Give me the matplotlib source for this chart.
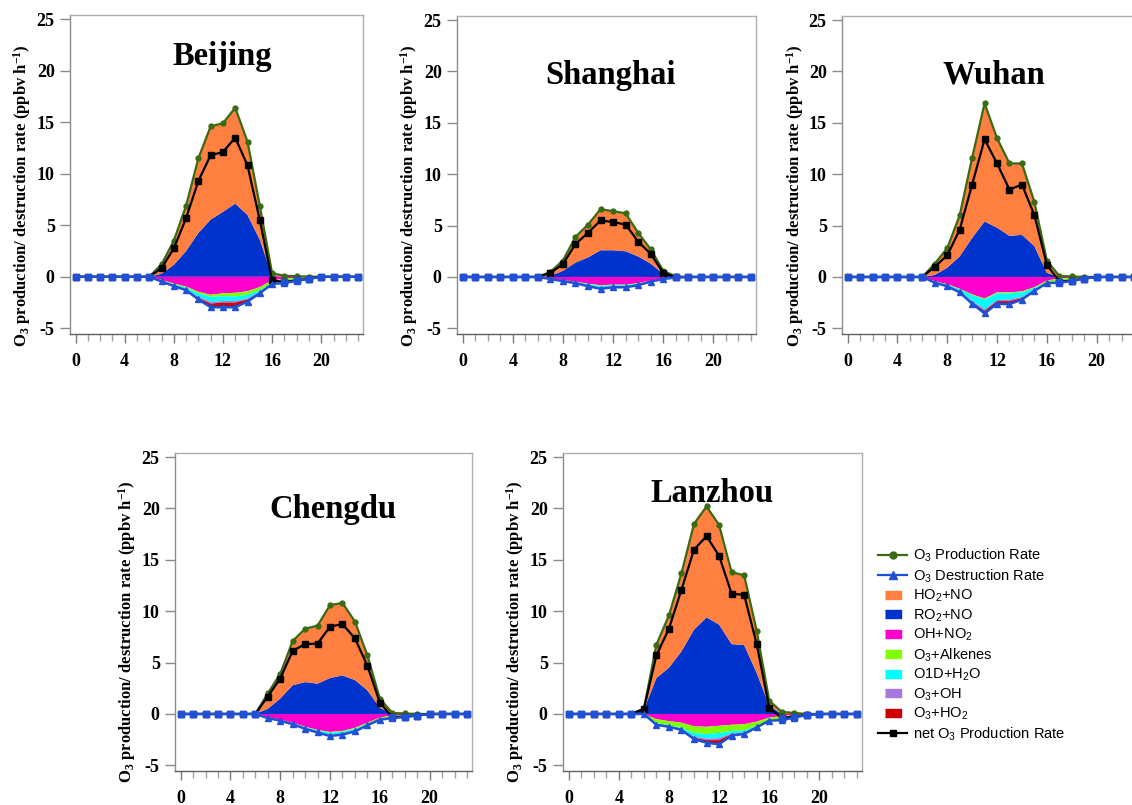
import numpy as np
import matplotlib
matplotlib.use('Agg')
import matplotlib.pyplot as plt
from matplotlib.lines import Line2D

HOURS = list(range(24))
CITIES = ['Beijing', 'Shanghai', 'Wuhan', 'Chengdu', 'Lanzhou']

# ---------------- Beijing ----------------
BJ_PROD = [0, 0, 0, 0, 0, 0, 0, 1.2, 3.5, 6.9, 11.5, 14.6, 14.9, 16.4, 13.1, 6.9, 0.35, 0.1, 0.05, 0.02, 0, 0, 0, 0]
BJ_DEST = [0, 0, 0, 0, 0, 0, 0, -0.45, -0.9, -1.3, -2.2, -2.95, -2.95, -2.95, -2.4, -1.6, -0.7, -0.6, -0.4, -0.2, 0, 0, 0, 0]
BJ_NET = [0, 0, 0, 0, 0, 0, 0, 0.85, 2.75, 5.7, 9.3, 11.8, 12.1, 13.5, 10.8, 5.5, -0.35, -0.5, -0.35, -0.18, 0, 0, 0, 0]
BJ_RO2 = [0, 0, 0, 0, 0, 0, 0, 0.3, 1.15, 2.5, 4.25, 5.55, 6.3, 7.1, 6.0, 3.6, 0.1, 0, 0, 0, 0, 0, 0, 0]
BJ_HO2 = [0, 0, 0, 0, 0, 0, 0, 0.9, 2.35, 4.4, 7.25, 9.05, 8.6, 9.3, 7.1, 3.3, 0.25, 0.1, 0.05, 0.02, 0, 0, 0, 0]
BJ_OHNO2 = [0, 0, 0, 0, 0, 0, 0, -0.3, -0.65, -0.95, -1.45, -1.75, -1.6, -1.55, -1.4, -1.0, -0.35, -0.2, -0.1, -0.05, 0, 0, 0, 0]
BJ_ALK = [0, 0, 0, 0, 0, 0, 0, -0.05, -0.08, -0.1, -0.15, -0.2, -0.3, -0.35, -0.35, -0.3, -0.25, -0.3, -0.25, -0.12, 0, 0, 0, 0]
BJ_O1D = [0, 0, 0, 0, 0, 0, 0, -0.05, -0.1, -0.15, -0.35, -0.5, -0.45, -0.45, -0.35, -0.15, -0.05, -0.03, -0.02, -0.01, 0, 0, 0, 0]
BJ_O3OH = [0, 0, 0, 0, 0, 0, 0, -0.02, -0.03, -0.04, -0.1, -0.15, -0.15, -0.15, -0.1, -0.05, -0.02, -0.02, -0.01, -0.01, 0, 0, 0, 0]
BJ_O3HO2 = [0, 0, 0, 0, 0, 0, 0, -0.03, -0.04, -0.06, -0.15, -0.35, -0.45, -0.45, -0.2, -0.1, -0.03, -0.05, -0.02, -0.01, 0, 0, 0, 0]

# ---------------- Shanghai ----------------
SH_PROD = [0, 0, 0, 0, 0, 0, 0, 0.5, 1.6, 3.9, 5.1, 6.6, 6.4, 6.2, 4.3, 2.7, 0.6, 0.05, 0, 0, 0, 0, 0, 0]
SH_DEST = [0, 0, 0, 0, 0, 0, 0, -0.2, -0.4, -0.6, -0.9, -1.15, -1.0, -1.0, -0.8, -0.45, -0.2, -0.05, 0, 0, 0, 0, 0, 0]
SH_NET = [0, 0, 0, 0, 0, 0, 0, 0.4, 1.25, 3.2, 4.3, 5.5, 5.35, 5.1, 3.45, 2.25, 0.4, -0.02, 0, 0, 0, 0, 0, 0]
SH_RO2 = [0, 0, 0, 0, 0, 0, 0, 0.1, 0.6, 1.4, 1.9, 2.6, 2.6, 2.5, 2.0, 1.3, 0.3, 0, 0, 0, 0, 0, 0, 0]
SH_HO2 = [0, 0, 0, 0, 0, 0, 0, 0.4, 1.0, 2.5, 3.2, 4.0, 3.8, 3.7, 2.3, 1.4, 0.3, 0.05, 0, 0, 0, 0, 0, 0]
SH_OHNO2 = [0, 0, 0, 0, 0, 0, 0, -0.15, -0.3, -0.45, -0.65, -0.8, -0.75, -0.75, -0.6, -0.35, -0.15, -0.03, 0, 0, 0, 0, 0, 0]
SH_ALK = [0, 0, 0, 0, 0, 0, 0, -0.02, -0.03, -0.04, -0.05, -0.07, -0.05, -0.05, -0.05, -0.04, -0.02, -0.01, 0, 0, 0, 0, 0, 0]
SH_O1D = [0, 0, 0, 0, 0, 0, 0, -0.02, -0.04, -0.07, -0.12, -0.18, -0.12, -0.12, -0.1, -0.04, -0.02, -0.01, 0, 0, 0, 0, 0, 0]
SH_O3OH = [0, 0, 0, 0, 0, 0, 0, -0.005, -0.01, -0.02, -0.03, -0.04, -0.03, -0.03, -0.02, -0.01, -0.005, 0, 0, 0, 0, 0, 0, 0]
SH_O3HO2 = [0, 0, 0, 0, 0, 0, 0, -0.005, -0.02, -0.02, -0.05, -0.06, -0.05, -0.05, -0.03, -0.01, -0.005, 0, 0, 0, 0, 0, 0, 0]

# ---------------- Wuhan ----------------
WH_PROD = [0, 0, 0, 0, 0, 0, 0, 1.3, 2.8, 6.0, 11.6, 16.9, 13.5, 11.05, 11.05, 7.3, 1.6, 0.1, 0.05, 0, 0, 0, 0, 0]
WH_DEST = [0, 0, 0, 0, 0, 0, 0, -0.55, -0.9, -1.5, -2.6, -3.55, -2.6, -2.65, -2.2, -1.35, -0.6, -0.55, -0.4, -0.15, 0, 0, 0, 0]
WH_NET = [0, 0, 0, 0, 0, 0, 0, 1.0, 2.1, 4.6, 9.0, 13.4, 11.05, 8.5, 9.0, 6.0, 1.2, -0.45, -0.35, -0.15, 0, 0, 0, 0]
WH_RO2 = [0, 0, 0, 0, 0, 0, 0, 0.2, 0.9, 2.0, 3.8, 5.4, 4.8, 4.0, 4.1, 3.0, 0.4, 0, 0, 0, 0, 0, 0, 0]
WH_HO2 = [0, 0, 0, 0, 0, 0, 0, 1.1, 1.9, 4.0, 7.8, 11.5, 8.7, 7.05, 6.95, 4.3, 1.2, 0.1, 0.05, 0, 0, 0, 0, 0]
WH_OHNO2 = [0, 0, 0, 0, 0, 0, 0, -0.4, -0.7, -1.15, -1.7, -2.1, -1.5, -1.5, -1.4, -1.0, -0.35, -0.15, -0.1, -0.05, 0, 0, 0, 0]
WH_ALK = [0, 0, 0, 0, 0, 0, 0, -0.05, -0.05, -0.05, -0.08, -0.1, -0.1, -0.1, -0.1, -0.08, -0.15, -0.3, -0.2, -0.07, 0, 0, 0, 0]
WH_O1D = [0, 0, 0, 0, 0, 0, 0, -0.05, -0.1, -0.2, -0.55, -0.95, -0.65, -0.6, -0.45, -0.2, -0.05, -0.03, -0.03, -0.01, 0, 0, 0, 0]
WH_O3OH = [0, 0, 0, 0, 0, 0, 0, -0.02, -0.02, -0.04, -0.1, -0.15, -0.1, -0.15, -0.1, -0.03, -0.02, -0.02, -0.02, -0.01, 0, 0, 0, 0]
WH_O3HO2 = [0, 0, 0, 0, 0, 0, 0, -0.03, -0.03, -0.06, -0.17, -0.25, -0.25, -0.3, -0.15, -0.04, -0.03, -0.05, -0.05, -0.01, 0, 0, 0, 0]

# ---------------- Chengdu ----------------
CD_PROD = [0, 0, 0, 0, 0, 0, 0, 2.0, 3.9, 7.1, 8.3, 8.6, 10.6, 10.8, 9.0, 5.7, 1.5, 0.1, 0.05, 0, 0, 0, 0, 0]
CD_DEST = [0, 0, 0, 0, 0, 0, 0, -0.4, -0.65, -1.0, -1.45, -1.8, -2.15, -2.0, -1.7, -1.1, -0.55, -0.4, -0.3, -0.15, 0, 0, 0, 0]
CD_NET = [0, 0, 0, 0, 0, 0, 0, 1.7, 3.45, 6.15, 6.8, 6.85, 8.5, 8.75, 7.35, 4.7, 1.1, -0.3, -0.25, -0.15, 0, 0, 0, 0]
CD_RO2 = [0, 0, 0, 0, 0, 0, 0, 0.5, 1.5, 2.8, 3.1, 2.95, 3.5, 3.75, 3.3, 2.3, 0.6, 0, 0, 0, 0, 0, 0, 0]
CD_HO2 = [0, 0, 0, 0, 0, 0, 0, 1.5, 2.4, 4.3, 5.2, 5.65, 7.1, 7.05, 5.7, 3.4, 0.9, 0.1, 0.05, 0, 0, 0, 0, 0]
CD_OHNO2 = [0, 0, 0, 0, 0, 0, 0, -0.3, -0.55, -0.85, -1.25, -1.55, -1.75, -1.65, -1.35, -0.85, -0.35, -0.15, -0.1, -0.05, 0, 0, 0, 0]
CD_ALK = [0, 0, 0, 0, 0, 0, 0, -0.03, -0.03, -0.04, -0.05, -0.06, -0.08, -0.08, -0.1, -0.12, -0.12, -0.15, -0.12, -0.06, 0, 0, 0, 0]
CD_O1D = [0, 0, 0, 0, 0, 0, 0, -0.04, -0.05, -0.08, -0.1, -0.13, -0.2, -0.17, -0.17, -0.1, -0.05, -0.06, -0.05, -0.03, 0, 0, 0, 0]
CD_O3OH = [0, 0, 0, 0, 0, 0, 0, -0.01, -0.01, -0.01, -0.02, -0.02, -0.05, -0.04, -0.03, -0.01, -0.01, -0.01, -0.01, 0, 0, 0, 0, 0]
CD_O3HO2 = [0, 0, 0, 0, 0, 0, 0, -0.02, -0.01, -0.02, -0.03, -0.04, -0.07, -0.06, -0.05, -0.02, -0.02, -0.03, -0.02, -0.01, 0, 0, 0, 0]

# ---------------- Lanzhou ----------------
LZ_PROD = [0, 0, 0, 0, 0, 0, 0.5, 6.75, 9.6, 13.7, 18.5, 20.2, 18.4, 13.8, 13.5, 8.1, 1.3, 0.2, 0.1, 0, 0, 0, 0, 0]
LZ_DEST = [0, 0, 0, 0, 0, 0, 0, -1.05, -1.25, -1.55, -2.45, -2.8, -2.95, -2.1, -1.95, -1.3, -0.65, -0.6, -0.35, -0.1, 0, 0, 0, 0]
LZ_NET = [0, 0, 0, 0, 0, 0, 0.5, 5.7, 8.3, 12.1, 16.0, 17.3, 15.4, 11.7, 11.6, 6.8, 0.6, -0.4, -0.25, -0.1, 0, 0, 0, 0]
LZ_RO2 = [0, 0, 0, 0, 0, 0, 0.4, 3.5, 4.5, 6.1, 8.2, 9.4, 8.7, 6.8, 6.7, 4.0, 0.8, 0, 0, 0, 0, 0, 0, 0]
LZ_HO2 = [0, 0, 0, 0, 0, 0, 0.1, 3.25, 5.1, 7.6, 10.3, 10.8, 9.7, 7.0, 6.8, 4.1, 0.5, 0.2, 0.1, 0, 0, 0, 0, 0]
LZ_OHNO2 = [0, 0, 0, 0, 0, 0, 0, -0.5, -0.7, -0.85, -1.2, -1.25, -1.15, -1.05, -1.0, -0.75, -0.35, -0.2, -0.1, -0.03, 0, 0, 0, 0]
LZ_ALK = [0, 0, 0, 0, 0, 0, 0, -0.4, -0.4, -0.5, -0.65, -0.7, -0.7, -0.6, -0.6, -0.4, -0.25, -0.35, -0.22, -0.07, 0, 0, 0, 0]
LZ_O1D = [0, 0, 0, 0, 0, 0, 0, -0.05, -0.07, -0.1, -0.35, -0.45, -0.5, -0.25, -0.2, -0.08, -0.02, -0.02, -0.01, 0, 0, 0, 0, 0]
LZ_O3OH = [0, 0, 0, 0, 0, 0, 0, -0.03, -0.03, -0.04, -0.1, -0.15, -0.2, -0.07, -0.05, -0.03, -0.01, -0.01, -0.01, 0, 0, 0, 0, 0]
LZ_O3HO2 = [0, 0, 0, 0, 0, 0, 0, -0.07, -0.05, -0.06, -0.15, -0.25, -0.4, -0.13, -0.1, -0.04, -0.02, -0.02, -0.01, 0, 0, 0, 0, 0]

LEGEND_LABELS = ['O$_3$ Production Rate', 'O$_3$ Destruction Rate', 'HO$_2$+NO', 'RO$_2$+NO',
                 'OH+NO$_2$', 'O$_3$+Alkenes', 'O1D+H$_2$O', 'O$_3$+OH', 'O$_3$+HO$_2$',
                 'net O$_3$ Production Rate']
YLABEL = 'O$_3$ production/ destruction rate (ppbv h$^{-1}$)'

# ---------------- style ----------------
C_ORANGE = '#FF8040'
C_BLUE = '#0033CC'
C_MAG = '#FF00CC'
C_GRN = '#80FF00'
C_CYAN = '#00FFFF'
C_PURP = '#A878E0'
C_RED = '#CC0000'
C_PLINE = '#3A6A12'
C_DLINE = '#1F50D6'
C_SPINE = '#8C8C8C'

plt.rcParams['mathtext.default'] = 'regular'
SERIF = ['Liberation Serif', 'DejaVu Serif']
SANS = ['Liberation Sans Narrow', 'Liberation Sans', 'DejaVu Sans']

W, H = 1132, 805
fig = plt.figure(figsize=(W / 100, H / 100), dpi=100)


def px_axes(l, t, r, b):
    return fig.add_axes([l / W, 1 - b / H, (r - l) / W, (b - t) / H])


DATA = {
    'Beijing': (BJ_PROD, BJ_DEST, BJ_NET, BJ_RO2, BJ_HO2, BJ_OHNO2, BJ_ALK, BJ_O1D, BJ_O3OH, BJ_O3HO2),
    'Shanghai': (SH_PROD, SH_DEST, SH_NET, SH_RO2, SH_HO2, SH_OHNO2, SH_ALK, SH_O1D, SH_O3OH, SH_O3HO2),
    'Wuhan': (WH_PROD, WH_DEST, WH_NET, WH_RO2, WH_HO2, WH_OHNO2, WH_ALK, WH_O1D, WH_O3OH, WH_O3HO2),
    'Chengdu': (CD_PROD, CD_DEST, CD_NET, CD_RO2, CD_HO2, CD_OHNO2, CD_ALK, CD_O1D, CD_O3OH, CD_O3HO2),
    'Lanzhou': (LZ_PROD, LZ_DEST, LZ_NET, LZ_RO2, LZ_HO2, LZ_OHNO2, LZ_ALK, LZ_O1D, LZ_O3OH, LZ_O3HO2),
}

# axes box (px: left, top, right, bottom), title (cx, baseline), ylabel (cx, cy)
LAYOUT = {
    'Beijing': ((70, 15, 363, 334), (222, 65), (22, 196)),
    'Shanghai': ((457, 16, 756, 334), (610, 84), (409, 196)),
    'Wuhan': ((842, 16, 1139, 334), (994, 84), (795, 196)),
    'Chengdu': ((175, 453, 472, 771), (333, 518), (127, 632)),
    'Lanzhou': ((563, 453, 862, 771), (712, 502), (515, 632)),
}

hours = np.array(HOURS)
for city in CITIES:
    prod, dest, net, ro2, ho2, ohno2, alk, o1d, o3oh, o3ho2 = [np.array(v, dtype=float) for v in DATA[city]]
    box, tpos, ypos = LAYOUT[city]
    ax = px_axes(*box)
    ax.stackplot(hours, ro2, ho2, colors=[C_BLUE, C_ORANGE], linewidth=0, zorder=1)
    ax.stackplot(hours, ohno2, alk, o1d, o3oh, o3ho2,
                 colors=[C_MAG, C_GRN, C_CYAN, C_PURP, C_RED], linewidth=0, zorder=1)
    ax.plot(hours, prod, color=C_PLINE, lw=1.6, marker='o', ms=3.5, zorder=3)
    ax.plot(hours, net, color='black', lw=1.6, marker='s', ms=4.5, zorder=4)
    ax.plot(hours, dest, color=C_DLINE, lw=1.8, marker='^', ms=4.5, zorder=5)
    night = prod < 0.25
    ax.plot(hours[night], net[night], ls='none', marker='s', ms=4.5, color=C_DLINE, zorder=6)

    ax.set_xlim(-0.45, 23.4)
    ax.set_ylim(-5.55, 25.4)
    ax.set_yticks([-5, 0, 5, 10, 15, 20, 25])
    ax.set_yticklabels(['-5', '0', '5', '10', '15', '20', '25'])
    ax.set_xticks([0, 4, 8, 12, 16, 20])
    ax.set_xticks(HOURS, minor=True)
    ax.tick_params(axis='x', which='major', direction='out', length=6.5, width=1.0,
                   color='#7A7A7A', pad=7)
    ax.tick_params(axis='x', which='minor', direction='out', length=5, width=1.0, color='#A0A0A0')
    ax.tick_params(axis='y', which='major', direction='out', length=7.5, width=1.0,
                   color='#8A8A8A', pad=3.5)
    for lab in ax.get_xticklabels() + ax.get_yticklabels():
        lab.set_fontfamily(SERIF)
        lab.set_fontweight('bold')
        lab.set_fontsize(13)
    for s in ['top', 'right']:
        ax.spines[s].set_color('#B0B0B0')
        ax.spines[s].set_linewidth(1.0)
    ax.spines['left'].set_color(C_SPINE)
    ax.spines['bottom'].set_color('#606060')
    ax.spines['left'].set_linewidth(1.0)
    ax.spines['bottom'].set_linewidth(1.0)

    fig.text(tpos[0] / W, 1 - tpos[1] / H, city, ha='center', va='baseline',
             family=SERIF, fontweight='bold', fontsize=23.5)
    fig.text(ypos[0] / W, 1 - ypos[1] / H, YLABEL, ha='center', va='center', rotation=90,
             family=SERIF, fontweight='bold', fontsize=12)

# legend
rect = [(-1, -0.55), (1, -0.55), (1, 0.55), (-1, 0.55)]
handles = [
    Line2D([], [], color=C_PLINE, lw=1.6, marker='o', ms=5),
    Line2D([], [], color=C_DLINE, lw=1.6, marker='^', ms=6),
]
for c in [C_ORANGE, C_BLUE, C_MAG, C_GRN, C_CYAN, C_PURP, C_RED]:
    handles.append(Line2D([], [], ls='none', marker=rect, ms=11, color=c, mec=c))
handles.append(Line2D([], [], color='black', lw=1.6, marker='s', ms=5))
leg = fig.legend(handles, LEGEND_LABELS, loc='upper left', bbox_to_anchor=(878 / W, 1 - 547 / H),
                 frameon=False, prop={'family': SANS, 'size': 10.5}, handlelength=2.0,
                 handletextpad=0.4, labelspacing=0.21, borderpad=0, borderaxespad=0)

fig.savefig('out.png', dpi=100)
